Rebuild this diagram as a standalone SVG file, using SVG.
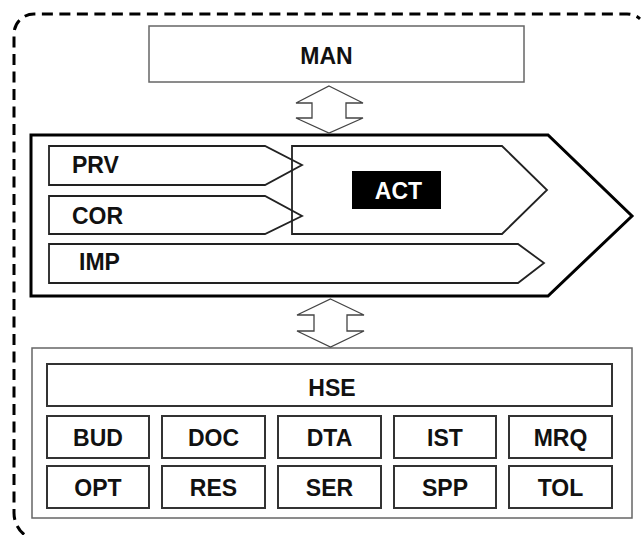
<svg xmlns="http://www.w3.org/2000/svg" width="641" height="535" viewBox="0 0 641 535">
  <style>
    .lbl { font-family: "Liberation Sans", Arial, sans-serif; font-weight: bold; font-size: 23px; fill: #111; }
    .mid { text-anchor: middle; }
    .box { fill: #fff; stroke: #333; stroke-width: 2; }
    .thin { fill: #fff; stroke: #666; stroke-width: 1.5; }
    .chev { fill: none; stroke: #222; stroke-width: 1.8; stroke-linejoin: miter; }
    .dbl { fill: #fff; stroke: #444; stroke-width: 1.3; stroke-linejoin: miter; }
  </style>
  <rect width="641" height="535" fill="#fff"/>

  <!-- dashed boundary: only the part inside the canvas (left side, top, corners) -->
  <path d="M24.1,534.5 A28,28 0 0 1 14,513 L14,34 A20,20 0 0 1 34,14 L627,14 A20,20 0 0 1 640,18.8" fill="none" stroke="#000" stroke-width="3" stroke-dasharray="11 6.5"/>

  <!-- management -->
  <g id="man">
    <rect class="thin" x="149" y="26" width="375" height="56"/>
    <text class="lbl mid" x="326.5" y="64">MAN</text>
  </g>

  <!-- process chevron -->
  <g id="process">
    <path d="M31,135 L548,135 L632,216 L548,296 L31,296 Z" fill="#fff" stroke="#000" stroke-width="3" stroke-linejoin="miter"/>
  </g>
  <g id="prv">
    <path class="chev" d="M49,146 L265,146 L302,165 L265,185 L49,185 Z"/>
    <text class="lbl" x="72" y="173">PRV</text>
  </g>
  <g id="cor">
    <path class="chev" d="M49,196 L265,196 L302,216 L265,234 L49,234 Z"/>
    <text class="lbl" x="72" y="224">COR</text>
  </g>
  <g id="imp">
    <path class="chev" d="M49,244 L518,244 L544,263 L518,283 L49,283 Z"/>
    <text class="lbl" x="79" y="270">IMP</text>
  </g>
  <g id="act">
    <path class="chev" d="M292,146 L502,146 L547,190 L502,234 L292,234 Z"/>
    <rect x="352" y="171" width="89" height="38" fill="#000"/>
    <text class="lbl mid" x="398.5" y="199" style="fill:#fff">ACT</text>
  </g>

  <!-- support area -->
  <g id="support">
    <rect class="thin" x="32" y="348" width="600" height="170"/>
  </g>
  <g id="hse">
    <rect class="box" x="47" y="364" width="565" height="42"/>
    <text class="lbl mid" x="332" y="396">HSE</text>
  </g>
  <g id="bud"><rect class="box" x="47" y="416" width="102" height="42"/><text class="lbl mid" x="98" y="446">BUD</text></g>
  <g id="doc"><rect class="box" x="162" y="416" width="103" height="42"/><text class="lbl mid" x="213.5" y="446">DOC</text></g>
  <g id="dta"><rect class="box" x="278" y="416" width="103" height="42"/><text class="lbl mid" x="329.5" y="446">DTA</text></g>
  <g id="ist"><rect class="box" x="394" y="416" width="102" height="42"/><text class="lbl mid" x="445" y="446">IST</text></g>
  <g id="mrq"><rect class="box" x="509" y="416" width="103" height="42"/><text class="lbl mid" x="560.5" y="446">MRQ</text></g>
  <g id="opt"><rect class="box" x="47" y="466" width="102" height="42"/><text class="lbl mid" x="98" y="496">OPT</text></g>
  <g id="res"><rect class="box" x="162" y="466" width="103" height="42"/><text class="lbl mid" x="213.5" y="496">RES</text></g>
  <g id="ser"><rect class="box" x="278" y="466" width="103" height="42"/><text class="lbl mid" x="329.5" y="496">SER</text></g>
  <g id="spp"><rect class="box" x="394" y="466" width="102" height="42"/><text class="lbl mid" x="445" y="496">SPP</text></g>
  <g id="tol"><rect class="box" x="509" y="466" width="103" height="42"/><text class="lbl mid" x="560.5" y="496">TOL</text></g>

  <!-- two-way block arrows -->
  <g id="connectors">
    <path class="dbl" d="M329,86 L363,103 L346,103 L346,118 L363,118 L329,133 L296,118 L312,118 L312,103 L296,103 Z"/>
    <path class="dbl" d="M330.5,299 L364,315 L347,315 L347,331 L364,331 L330.5,347 L297,331 L314,331 L314,315 L297,315 Z"/>
  </g>
</svg>
